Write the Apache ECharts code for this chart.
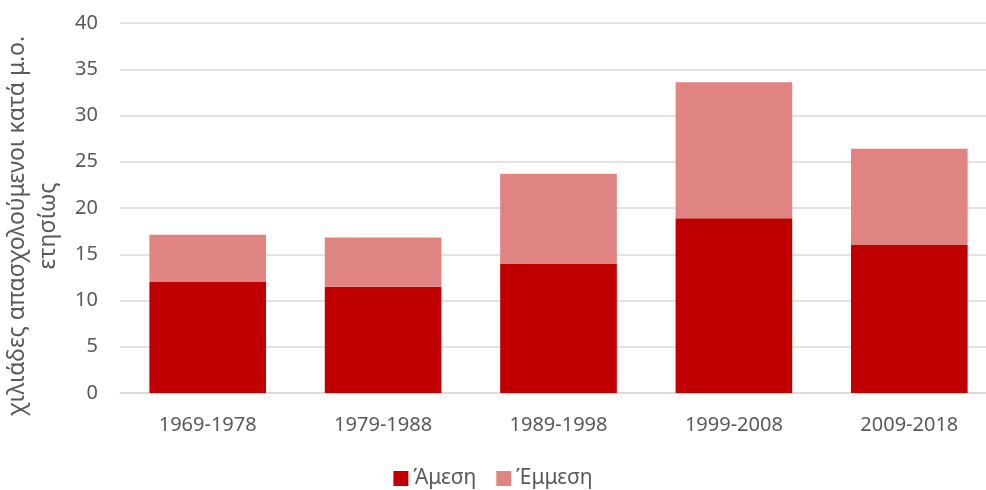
<!DOCTYPE html>
<html>
<head>
<meta charset="utf-8">
<script src="https://cdn.jsdelivr.net/npm/echarts@6/dist/echarts.min.js"></script>
<style>
  html, body { margin: 0; padding: 0; background: #fff; }
  #chart { width: 986px; height: 490px; }
</style>
</head>
<body>
<div id="chart"></div>
<script>
// δεδομένα
var periods = ['1969-1978', '1979-1988', '1989-1998', '1999-2008', '2009-2018'];
var direct = [12.0, 11.5, 14.0, 18.9, 16.0];     // Άμεση
var indirect = [5.1, 5.3, 9.7, 14.7, 10.4];      // Έμμεση
var yTicks = { min: 0, max: 40, interval: 5 };

var myChart = echarts.init(document.getElementById('chart'));
var font = '"Noto Sans", "DejaVu Sans", sans-serif';

var option = {
  animation: false,
  textStyle: { fontFamily: font },
  legend: {
    top: 463,
    left: 'center',
    itemWidth: 15,
    itemHeight: 15,
    itemGap: 20,
    icon: 'rect',
    textStyle: { color: '#595959', fontSize: 21, fontFamily: font },
    data: ['Άμεση', 'Έμμεση']
  },
  grid: {
    left: 120,
    top: 23,
    width: 877,
    height: 370,
    outerBoundsMode: 'none',
    containLabel: false
  },
  xAxis: {
    type: 'category',
    data: periods,
    axisTick: { show: false },
    axisLine: { lineStyle: { color: '#d9d9d9', width: 1.5 } },
    axisLabel: { color: '#595959', fontSize: 20, margin: 22, fontFamily: font }
  },
  yAxis: {
    type: 'value',
    min: yTicks.min,
    max: yTicks.max,
    interval: yTicks.interval,
    name: 'χιλιάδες απασχολούμενοι κατά μ.ο.\nετησίως',
    nameLocation: 'middle',
    nameGap: 50,
    nameTextStyle: {
      color: '#595959', fontSize: 23, lineHeight: 31, fontFamily: font,
      padding: [0, 36, 0, 0]   // μετατόπιση προς τα κάτω
    },
    axisLine: { show: false },
    axisTick: { show: false },
    axisLabel: { color: '#595959', fontSize: 20, margin: 22, fontFamily: font },
    splitLine: { lineStyle: { color: '#d9d9d9', width: 1.5 } }
  },
  series: [
    {
      name: 'Άμεση',
      type: 'bar',
      stack: 'total',
      barWidth: '66.5%',
      itemStyle: { color: '#c00000' },
      data: direct
    },
    {
      name: 'Έμμεση',
      type: 'bar',
      stack: 'total',
      barWidth: '66.5%',
      itemStyle: { color: '#e08482' },
      data: indirect
    }
  ]
};
myChart.setOption(option);
</script>
</body>
</html>
